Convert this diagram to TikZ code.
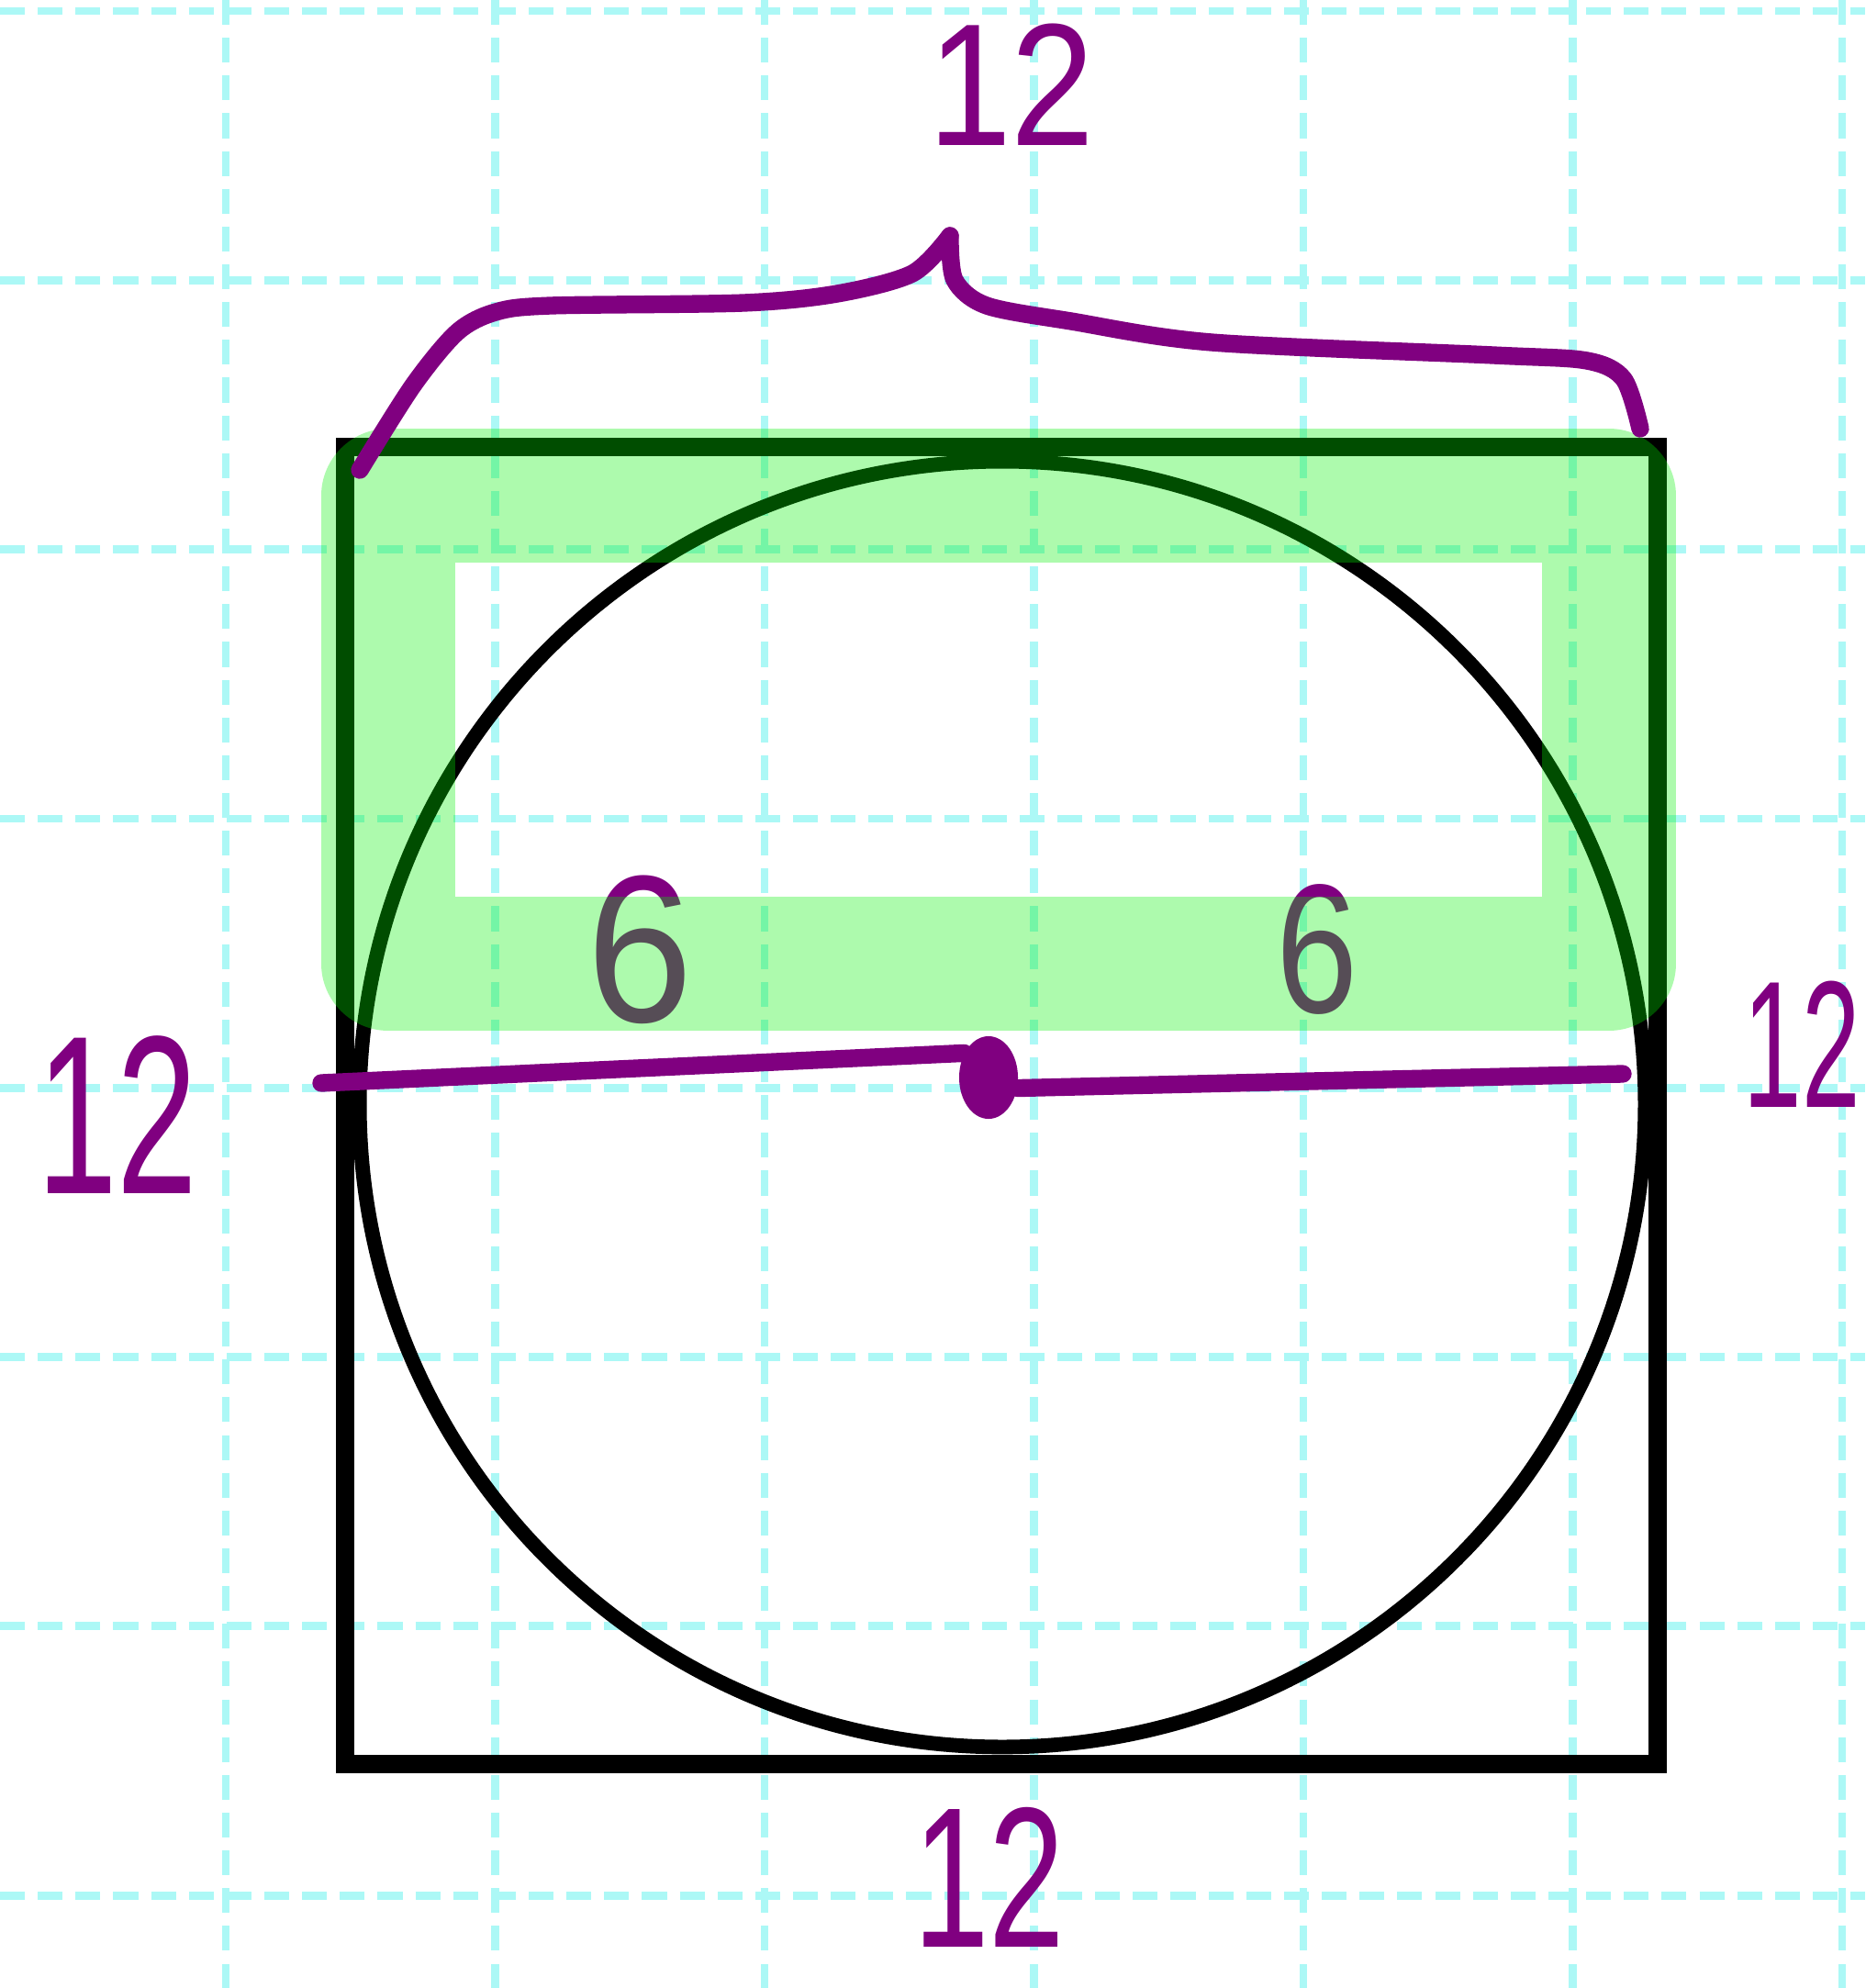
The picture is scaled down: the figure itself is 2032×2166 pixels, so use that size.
\documentclass[tikz,border=0pt]{standalone}
\usepackage{fontspec}
\usepackage{graphicx}
\usetikzlibrary{shapes.geometric}
\newfontfamily\handfont{Liberation Sans}
\definecolor{gridcyan}{RGB}{172,248,246}
\definecolor{inkpurple}{RGB}{128,0,128}
\definecolor{hlgreen}{RGB}{0,240,0}
\tikzset{
  gridline/.style={gridcyan,line width=2.5pt,dash pattern=on 7.7pt off 4pt},
  outline/.style={black,line width=5.6pt},
  pen/.style={inkpurple,line width=5pt,line cap=round,line join=round},
  hilite/.style={hlgreen,draw opacity=.32,line width=1.45cm,line join=round},
  digit/.style={text=inkpurple,inner sep=0pt},
}

\begin{document}
\begin{tikzpicture}[x=0.01cm,y=-0.01cm]
  \useasboundingbox (0,0) rectangle (2032,2166);
  % paper grid
  \foreach \i in {0,...,6}
    \draw[gridline] ({246+293.5*\i},0) -- ++(0,2166);
  \foreach \j in {0,...,7}
    \draw[gridline] (0,{12+293.3*\j}) -- ++(2032,0);

  \draw[outline] (376,487) rectangle (1806,1922);
  \draw[outline,line width=4.5pt] (1092,1203) circle [radius=7cm];

  \node[digit,font=\handfont\fontsize{65}{65}\selectfont] (sixl) at (697,1035) {\scalebox{.91}[1]{6}};
  \node[digit,font=\handfont\fontsize{57}{57}\selectfont] (sixr) at (1435,1034) {\scalebox{.8}[1]{6}};

  % highlight over the top half
  \draw[hilite] (423,540) rectangle (1753,1050);

  % brace
  \draw[pen,line width=5.5pt] plot[smooth,tension=.5] coordinates
    {(392,512) (450,420) (498,362) (540,340) (600,333) (810,330) (912,320) (994,298) (1035,257)};
  \draw[pen,line width=5.5pt] plot[smooth,tension=.5] coordinates
    {(1035,257) (1040,305) (1075,333) (1167,350) (1320,373) (1627,387) (1729,393) (1769,413) (1787,467)};

  % diameter
  \coordinate (rl) at (350,1180);
  \coordinate (rr) at (1768,1170);
  \node[fill=inkpurple,ellipse,minimum width=.64cm,minimum height=.9cm,inner sep=0pt] (ctr) at (1077,1174) {};
  \draw[pen,line width=5.5pt] (rl) -- (ctr.135);
  \draw[pen,line width=5.5pt] (ctr.-20) -- (rr);

  \node[digit,font=\handfont\fontsize{54}{54}\selectfont] (lentop) at (1102,92) {\scalebox{.86}[1]{12}};
  \node[digit,font=\handfont\fontsize{62}{62}\selectfont] (lenbot) at (1078,2045) {\scalebox{.68}[1]{12}};
  \node[digit,font=\handfont\fontsize{70}{70}\selectfont] (lenleft) at (128,1215) {\scalebox{.64}[1]{12}};
  \node[digit,font=\handfont\fontsize{56}{56}\selectfont] (lenright) at (1963,1138) {\scalebox{.58}[1]{12}};
\end{tikzpicture}
\end{document}
